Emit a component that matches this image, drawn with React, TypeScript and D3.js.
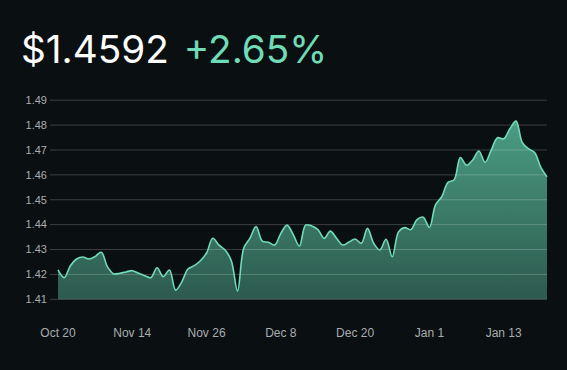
import React, { useEffect } from 'react';
import { scaleLinear, area, line, curveCatmullRom } from 'd3';

const price = '$1.4592';
const change = '+2.65%';

// one value per trading day, left to right
const values = [
  1.4218, 1.4187, 1.4235, 1.4262, 1.427, 1.4262, 1.4272, 1.4289, 1.423, 1.4202,
  1.4205, 1.421, 1.4215, 1.4205, 1.4195, 1.4187, 1.4227, 1.4191, 1.4218, 1.4137,
  1.417, 1.4222, 1.4235, 1.4255, 1.4286, 1.4345, 1.4318, 1.4298, 1.4255, 1.4133,
  1.4305, 1.4345, 1.4392, 1.4334, 1.4329, 1.4318, 1.4365, 1.4398, 1.436, 1.4314,
  1.4398, 1.4395, 1.438, 1.4345, 1.4374, 1.4345, 1.4318, 1.433, 1.4342, 1.4325,
  1.4385, 1.4325, 1.4298, 1.4341, 1.4271, 1.437, 1.4388, 1.438, 1.442, 1.443,
  1.4389, 1.448, 1.4512, 1.457, 1.458, 1.467, 1.4639, 1.466, 1.4696, 1.465,
  1.47, 1.4749, 1.4745, 1.4785, 1.4816, 1.473, 1.4705, 1.469, 1.463, 1.4592,
];

const xTickIndex = [0, 12, 24, 36, 48, 60, 72];
const xTickLabels = ['Oct 20', 'Nov 14', 'Nov 26', 'Dec 8', 'Dec 20', 'Jan 1', 'Jan 13'];
const yTicks = [1.41, 1.42, 1.43, 1.44, 1.45, 1.46, 1.47, 1.48, 1.49];

const W = 567;
const H = 370;
const green = '#6fdcb7';

export default function App() {
  useEffect(() => {
    document.body.style.margin = '0';
    document.body.style.background = '#0a0f12';
  }, []);

  const x = scaleLinear().domain([0, values.length - 1]).range([58, 547]);
  const y = scaleLinear().domain([1.41, 1.49]).range([299.3, 100.2]);

  const areaGen = area<number>()
    .x((_, i) => x(i))
    .y0(y(1.41))
    .y1(d => y(d))
    .curve(curveCatmullRom.alpha(0.5));
  const lineGen = line<number>()
    .x((_, i) => x(i))
    .y(d => y(d))
    .curve(curveCatmullRom.alpha(0.5));

  return (
    <svg width={W} height={H} style={{ display: 'block' }}>
      <defs>
        <linearGradient id="fillGrad" x1="0" y1="0" x2="0" y2="1" gradientUnits="objectBoundingBox">
          <stop offset="0%" stopColor="#4a9c82" />
          <stop offset="100%" stopColor="#2d5a4e" />
        </linearGradient>
      </defs>
      <rect width={W} height={H} fill="#0a0f12" />

      <text x={21} y={63} fontFamily="Inter, sans-serif" fontSize={38.7} fill="#ffffff">
        {price}
        <tspan dx={15} fill={green}>{change}</tspan>
      </text>

      <path d={areaGen(values) || ''} fill="url(#fillGrad)" />

      {yTicks.map(t => (
        <g key={t}>
          <line x1={58} x2={547} y1={y(t)} y2={y(t)} stroke="rgba(255,255,255,0.2)" strokeWidth={1} />
          <line x1={50} x2={58} y1={y(t)} y2={y(t)} stroke="rgba(255,255,255,0.2)" strokeWidth={1} />
          <text x={47} y={y(t)} dy="0.35em" textAnchor="end" fontFamily="Liberation Sans, Arial, sans-serif" fontSize={11} fill="#a9adb0">
            {t.toFixed(2)}
          </text>
        </g>
      ))}

      <path d={lineGen(values) || ''} fill="none" stroke={green} strokeWidth={1.6} />

      {xTickIndex.map((idx, i) => (
        <text key={idx} x={x(idx)} y={337} textAnchor="middle" fontFamily="Liberation Sans, Arial, sans-serif" fontSize={12} fill="#a9adb0">
          {xTickLabels[i]}
        </text>
      ))}
    </svg>
  );
}
